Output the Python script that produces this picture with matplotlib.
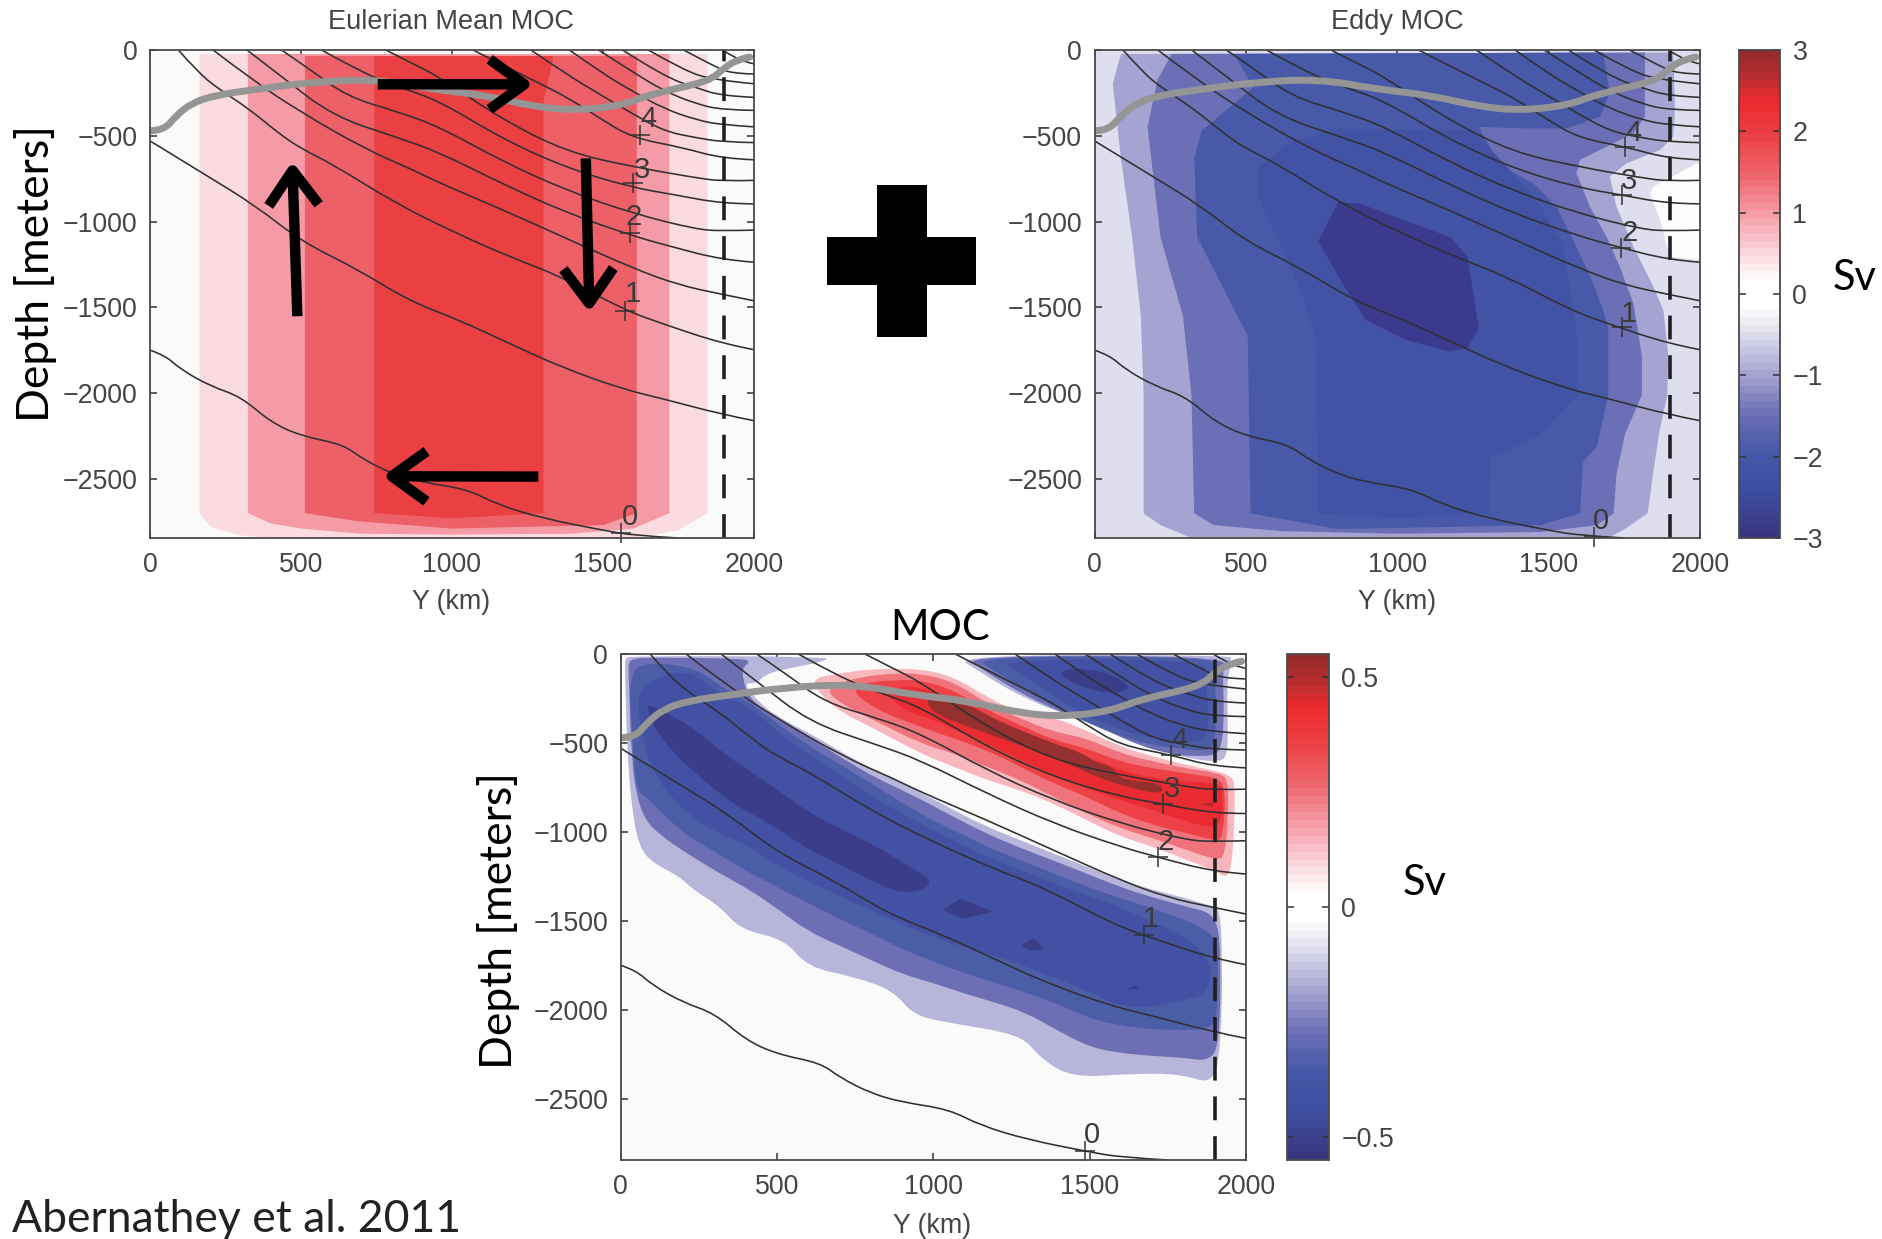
import matplotlib
matplotlib.use("Agg")
import matplotlib.pyplot as plt
from matplotlib.cm import ScalarMappable
from matplotlib.colors import LinearSegmentedColormap, Normalize
from matplotlib.patches import PathPatch, Rectangle
from matplotlib.path import Path

# ---------- isopycnals: (Y km, depth m) ----------
B00_Y = [0, 50, 100, 200, 300, 400, 500, 640, 700, 800, 900, 1050, 1150, 1300, 1500, 1600, 1750]
B00_Z = [-1750, -1780, -1860, -1960, -2020, -2170, -2250, -2300, -2380, -2470, -2520, -2560, -2650, -2730, -2800, -2830, -2845]
B05_Y = [0, 180, 350, 500, 685, 855, 1024, 1193, 1363, 1565, 1700, 1897, 2000]
B05_Z = [-530, -724, -908, -1115, -1276, -1460, -1575, -1713, -1850, -1977, -2034, -2126, -2161]
B10_Y = [94, 158, 222, 328, 424, 500, 605, 819, 1021, 1193, 1363, 1573, 1700, 1897, 2000]
B10_Z = [0, -128, -221, -343, -483, -575, -666, -900, -1074, -1207, -1322, -1517, -1598, -1713, -1747]
B15_Y = [209, 338, 499, 712, 872, 957, 1170, 1383, 1597, 1750, 1895, 2000]
B15_Z = [0, -174, -362, -577, -700, -774, -933, -1102, -1271, -1370, -1425, -1462]
B20_Y = [321, 432, 605, 819, 957, 1170, 1383, 1597, 1719, 1895, 2000]
B20_Z = [0, -150, -385, -510, -596, -783, -952, -1083, -1143, -1224, -1237]
B25_Y = [435, 520, 650, 819, 957, 1170, 1383, 1597, 1810, 1895, 2000]
B25_Z = [0, -100, -270, -360, -446, -652, -821, -952, -1046, -1055, -1050]
B30_Y = [568, 700, 830, 957, 1170, 1383, 1597, 1735, 1895, 2000]
B30_Z = [0, -130, -220, -296, -521, -690, -802, -843, -896, -897]
B35_Y = [781, 870, 957, 1170, 1383, 1597, 1810, 1895, 2000]
B35_Z = [0, -80, -156, -409, -596, -680, -746, -765, -760]
B40_Y = [1070, 1096, 1277, 1383, 1490, 1597, 1762, 1895, 2000]
B40_Z = [0, -24, -184, -277, -399, -512, -568, -633, -640]
B45_Y = [1261, 1383, 1490, 1597, 1703, 1810, 1895, 2000]
B45_Z = [0, -146, -259, -371, -474, -512, -536, -540]
B50_Y = [1389, 1490, 1597, 1703, 1810, 1895, 2000]
B50_Z = [0, -127, -240, -343, -408, -437, -448]
B55_Y = [1485, 1597, 1703, 1810, 1895, 2000]
B55_Z = [0, -127, -240, -315, -349, -352]
B60_Y = [1565, 1703, 1810, 1895, 2000]
B60_Z = [0, -156, -221, -268, -276]
B65_Y = [1650, 1767, 1863, 2000]
B65_Z = [0, -118, -174, -197]
B70_Y = [1767, 1863, 1922, 2000]
B70_Z = [0, -90, -137, -140]
B75_Y = [1895, 1959, 2000]
B75_Z = [0, -71, -80]
ISO_Y = [B00_Y, B05_Y, B10_Y, B15_Y, B20_Y, B25_Y, B30_Y, B35_Y, B40_Y, B45_Y, B50_Y, B55_Y, B60_Y, B65_Y, B70_Y, B75_Y]
ISO_Z = [B00_Z, B05_Z, B10_Z, B15_Z, B20_Z, B25_Z, B30_Z, B35_Z, B40_Z, B45_Z, B50_Z, B55_Z, B60_Z, B65_Z, B70_Z, B75_Z]

# mixed-layer depth
ML_Y = [0, 45, 88, 138, 214, 350, 518, 737, 940, 1109, 1278, 1413, 1565, 1666, 1851, 1902, 1944, 1986]
ML_Z = [-471, -470, -380, -310, -264, -230, -190, -168, -230, -264, -333, -352, -322, -253, -184, -103, -57, -41]

# isopycnal labels: marker Y, marker depth, text Y, text depth
LABELS = ["0", "1", "2", "3", "4"]
EUL_MK_Y = [1561, 1573, 1590, 1598, 1623]
EUL_MK_Z = [-2816, -1522, -1069, -775, -494]
EUL_TX_Y = [1590, 1598, 1603, 1629, 1649]
EUL_TX_Z = [-2724, -1425, -972, -697, -402]
EDD_MK_Y = [1650, 1743, 1740, 1743, 1753]
EDD_MK_Z = [-2839, -1616, -1156, -846, -568]
EDD_TX_Y = [1674, 1766, 1766, 1767, 1780]
EDD_TX_Z = [-2747, -1540, -1069, -766, -483]
MOC_MK_Y = [1484, 1674, 1719, 1735, 1759]
MOC_MK_Z = [-2797, -1579, -1140, -841, -570]
MOC_TX_Y = [1508, 1694, 1743, 1763, 1786]
MOC_TX_Z = [-2704, -1491, -1056, -759, -486]

# ---------- Eulerian panel: filled contour outlines ----------
E1_Y = [164, 1846, 1846, 1750, 1600, 400, 300, 200, 164]
E1_Z = [-23, -23, -2700, -2800, -2845, -2845, -2830, -2780, -2700]
E2_Y = [324, 1720, 1720, 1600, 1400, 1000, 700, 500, 400, 324]
E2_Z = [-23, -23, -2700, -2790, -2820, -2825, -2820, -2790, -2760, -2700]
E3_Y = [513, 1612, 1612, 1500, 1000, 687, 513]
E3_Z = [-35, -35, -2700, -2770, -2790, -2747, -2700]
E4_Y = [743, 1337, 1303, 1303, 1000, 743]
E4_Z = [-35, -35, -300, -2700, -2730, -2700]

# ---------- Eddy panel ----------
D2_Y = [87, 1912, 1917, 1912, 1868, 1757, 1702, 1724, 1780, 1846, 1879, 1895, 1892, 1864, 1845, 1827, 1752, 1697, 320, 218, 162, 162, 153, 124, 87, 60]
D2_Z = [-23, -15, -350, -505, -583, -661, -738, -913, -1147, -1380, -1516, -1780, -2011, -2241, -2471, -2701, -2793, -2845, -2845, -2770, -2701, -2012, -1552, -1092, -632, -196]
D3_Y = [255, 1818, 1818, 1780, 1669, 1603, 1592, 1636, 1691, 1735, 1780, 1808, 1808, 1752, 1724, 1715, 1660, 1473, 1000, 618, 394, 329, 320, 292, 218, 175, 208]
D3_Z = [-23, -15, -389, -486, -583, -641, -719, -913, -1088, -1263, -1477, -1782, -2011, -2241, -2471, -2701, -2770, -2810, -2820, -2805, -2770, -2701, -2011, -1552, -1092, -448, -172]
D4_Y = [460, 1680, 1702, 1669, 1559, 1427, 1269, 1339, 1449, 1526, 1581, 1647, 1680, 1697, 1697, 1660, 1613, 1604, 1473, 804, 515, 506, 339, 329, 353, 525]
D4_Z = [-23, -15, -253, -389, -457, -457, -448, -670, -777, -913, -1108, -1360, -1516, -1621, -2011, -2310, -2402, -2701, -2770, -2793, -2701, -1667, -1092, -632, -471, -218]
D5_Y = [543, 643, 810, 1250, 1325, 1455, 1548, 1594, 1594, 1473, 1306, 1302, 1000, 739, 729, 673, 543]
D5_Z = [-678, -540, -460, -471, -609, -862, -1138, -1667, -2011, -2241, -2379, -2701, -2730, -2701, -1667, -1368, -862]
D6_Y = [804, 878, 1176, 1232, 1269, 1232, 1176, 1027, 897, 822, 739]
D6_Z = [-885, -897, -1092, -1207, -1621, -1736, -1759, -1690, -1575, -1368, -1115]
DW_Y = [2000, 1989, 1846, 1835, 1868, 1900, 2000]
DW_Z = [-661, -661, -797, -836, -991, -1205, -1224]

# ---------- total MOC: lower blue lobe ----------
L1_Y = [14, 25, 670, 648, 563, 467, 435, 392, 435, 499, 605, 712, 819, 925, 1064, 1170, 1277, 1383, 1490, 1597, 1703, 1810, 1895, 1916, 1925, 1920, 1896, 1790, 1627, 1443, 1341, 1280, 1036, 934, 873, 750, 597, 526, 383, 318, 232, 190, 104, 57, 32, 20, 14]
L1_Z = [-30, -10, -15, -43, -71, -109, -165, -165, -259, -352, -446, -558, -661, -746, -877, -971, -1046, -1121, -1196, -1271, -1327, -1374, -1420, -1430, -1700, -2200, -2422, -2360, -2360, -2382, -2271, -2138, -2071, -2027, -1894, -1816, -1761, -1605, -1550, -1420, -1327, -1252, -1177, -1083, -820, -500, -100]
L2_Y = [25, 40, 94, 392, 414, 387, 395, 414, 467, 542, 605, 712, 819, 925, 1064, 1170, 1277, 1383, 1490, 1597, 1703, 1810, 1906, 1920, 1915, 1880, 1800, 1700, 1600, 1500, 1400, 1300, 1200, 1100, 1000, 900, 800, 700, 600, 499, 414, 307, 211, 126, 78, 51, 35, 25]
L2_Z = [-50, -25, -20, -25, -45, -80, -170, -250, -330, -400, -470, -590, -700, -785, -915, -1010, -1090, -1160, -1235, -1310, -1370, -1420, -1465, -1700, -2200, -2290, -2270, -2260, -2245, -2210, -2120, -2020, -1960, -1910, -1850, -1800, -1720, -1640, -1560, -1430, -1327, -1224, -1121, -1018, -933, -800, -600, -100]
L3_Y = [25, 94, 243, 318, 403, 478, 605, 712, 819, 957, 1064, 1170, 1277, 1383, 1490, 1597, 1703, 1895, 1912, 1908, 1880, 1800, 1700, 1600, 1500, 1400, 1300, 1200, 1100, 1000, 900, 800, 700, 600, 500, 400, 300, 200, 78, 50, 38]
L3_Z = [-100, -43, -80, -184, -259, -362, -521, -633, -746, -900, -990, -1083, -1158, -1233, -1308, -1373, -1430, -1555, -1700, -2050, -2110, -2115, -2110, -2090, -2050, -1970, -1905, -1850, -1795, -1730, -1660, -1570, -1490, -1400, -1310, -1220, -1110, -1010, -802, -760, -500]
L4_Y = [56, 104, 211, 275, 328, 414, 520, 627, 733, 840, 957, 1064, 1170, 1277, 1383, 1490, 1597, 1880, 1890, 1800, 1700, 1600, 1500, 1400, 1300, 1200, 1100, 1000, 900, 800, 700, 600, 500, 414, 300, 211, 100, 56]
L4_Z = [-212, -137, -90, -165, -240, -296, -465, -596, -718, -840, -952, -1046, -1139, -1214, -1289, -1355, -1420, -1650, -1900, -1950, -1985, -1985, -1900, -1830, -1760, -1700, -1650, -1590, -1520, -1440, -1360, -1280, -1190, -1083, -1000, -896, -680, -350]
L5_Y = [83, 104, 222, 328, 424, 510, 605, 712, 819, 925, 995, 973, 893, 797, 691, 584, 478, 371, 264, 168, 104]
L5_Z = [-287, -296, -399, -558, -671, -774, -896, -989, -1083, -1196, -1270, -1327, -1345, -1270, -1177, -1083, -952, -858, -708, -558, -408]
S1_Y = [1030, 1087, 1189, 1097]
S1_Z = [-1440, -1373, -1450, -1488]
S2_Y = [1280, 1321, 1358, 1311]
S2_Z = [-1639, -1597, -1661, -1668]
S3_Y = [1617, 1650, 1657]
S3_Z = [-1883, -1861, -1883]

# upper blue lobe
U1_Y = [1064, 1149, 1224, 1309, 1383, 1469, 1554, 1650, 1757, 1842, 1916, 1938, 1943, 1938, 1954, 1948]
U1_Z = [-6, -99, -184, -259, -315, -362, -427, -502, -559, -596, -605, -577, -446, -165, -34, -6]
U2_Y = [1095, 1160, 1240, 1325, 1400, 1480, 1565, 1660, 1760, 1840, 1905, 1925, 1930, 1925, 1935]
U2_Z = [-10, -90, -180, -260, -320, -375, -440, -515, -565, -575, -570, -500, -300, -100, -10]
U3_Y = [1130, 1190, 1270, 1345, 1420, 1500, 1590, 1690, 1780, 1860, 1900, 1905, 1900, 1915]
U3_Z = [-15, -90, -175, -255, -325, -390, -455, -510, -530, -545, -530, -300, -100, -15]
U4_Y = [1200, 1290, 1370, 1450, 1530, 1620, 1720, 1820, 1880, 1880, 1870, 1880]
U4_Z = [-30, -120, -220, -310, -380, -440, -480, -500, -470, -300, -150, -30]
U5_Y = [1399, 1437, 1522, 1607, 1629, 1597, 1522, 1447]
U5_Z = [-109, -81, -90, -146, -193, -221, -212, -165]

# red lobe
R1_Y = [605, 700, 791, 954, 1064, 1170, 1277, 1383, 1490, 1597, 1703, 1810, 1916, 1954, 1964, 1964, 1954, 1938, 1895, 1810, 1703, 1597, 1490, 1383, 1277, 1170, 1064, 957, 819, 712, 650]
R1_Z = [-140, -110, -85, -81, -127, -240, -334, -355, -430, -521, -577, -624, -662, -690, -727, -915, -1196, -1261, -1214, -1158, -1083, -1027, -933, -840, -765, -708, -633, -558, -427, -334, -250]
R2_Y = [691, 776, 872, 957, 1064, 1170, 1277, 1383, 1490, 1597, 1703, 1810, 1916, 1943, 1943, 1932, 1905, 1810, 1703, 1597, 1490, 1383, 1277, 1170, 1064, 957, 819, 712, 659]
R2_Z = [-165, -127, -109, -109, -155, -277, -362, -437, -474, -558, -605, -643, -671, -708, -915, -1140, -1158, -1102, -1036, -980, -896, -802, -708, -633, -558, -502, -380, -287, -212]
R3_Y = [733, 797, 904, 957, 1064, 1170, 1277, 1383, 1490, 1597, 1703, 1810, 1916, 1932, 1932, 1921, 1895, 1810, 1703, 1597, 1490, 1383, 1277, 1170, 1064, 957, 819]
R3_Z = [-202, -155, -146, -146, -202, -315, -399, -484, -530, -605, -643, -671, -699, -765, -915, -1046, -1046, -1008, -961, -896, -802, -727, -633, -540, -474, -409, -315]
R4_Y = [840, 893, 957, 1064, 1170, 1277, 1383, 1490, 1597, 1703, 1810, 1916, 1927, 1921, 1895, 1810, 1703, 1597, 1490, 1383, 1277, 1170, 1064, 957, 925]
R4_Z = [-221, -184, -184, -259, -352, -437, -502, -577, -652, -699, -718, -727, -783, -952, -980, -943, -877, -821, -755, -680, -596, -502, -418, -343, -333]
R5_Y = [978, 1021, 1117, 1191, 1277, 1383, 1479, 1511, 1575, 1597, 1735, 1730, 1618, 1533, 1405, 1277, 1170, 1064, 989]
R5_Z = [-249, -240, -287, -362, -427, -502, -558, -605, -633, -708, -727, -793, -746, -699, -596, -512, -446, -380, -315]
R6_Y = [1842, 1895, 1895]
R6_Z = [-843, -835, -860]

# colour bar
CB_POS = [-3, -2.5, -2, -1.5, -1, -0.5, -0.15, 0.15, 0.5, 1, 1.5, 2, 2.4, 2.7, 3]
CB_COL = ["#38367F", "#3D4C9F", "#4557A8", "#6B6FB5", "#A5A4D1", "#DEDEEC", "#FFFFFF", "#FFFFFF",
          "#FADADF", "#F59CA6", "#EE646C", "#EB3F41", "#ED2A2E", "#B92D2F", "#962B2B"]
CB1_TICKS = [-3, -2, -1, 0, 1, 2, 3]
CB2_TICKS = [-0.5, 0, 0.5]
CB2_LABELS = ["\u22120.5", "0", "0.5"]
X_TICKS = [0, 500, 1000, 1500, 2000]
Y_TICKS = [0, -500, -1000, -1500, -2000, -2500]

W, H = 1883, 1239
DPI = 100
TXT = "#454545"
FS = 19.3
plt.rcParams["font.family"] = ["Liberation Sans", "DejaVu Sans"]
fig = plt.figure(figsize=(W / DPI, H / DPI), dpi=DPI, facecolor="white")


def add_axes(x0, y0, x1, y1):
    return fig.add_axes([x0 / W, 1 - y1 / H, (x1 - x0) / W, (y1 - y0) / H])


def ftext(x, y, s, **kw):
    fig.text(x / W, 1 - y / H, s, ha=kw.pop("ha", "center"), va="center", **kw)


def curve_path(y, z, closed):
    """Quadratic Bezier path that uses the read points as control points."""
    p = list(zip(y, z))
    mid = lambda a, b: ((a[0] + b[0]) / 2, (a[1] + b[1]) / 2)
    if closed:
        n = len(p)
        verts = [mid(p[-1], p[0])]
        codes = [Path.MOVETO]
        for i in range(n):
            verts += [p[i], mid(p[i], p[(i + 1) % n])]
            codes += [Path.CURVE3, Path.CURVE3]
        return Path(verts, codes)
    if len(p) == 2:
        return Path(p)
    verts = [p[0]]
    codes = [Path.MOVETO]
    for i in range(1, len(p) - 1):
        end = p[-1] if i == len(p) - 2 else mid(p[i], p[i + 1])
        verts += [p[i], end]
        codes += [Path.CURVE3, Path.CURVE3]
    return Path(verts, codes)


def style(ax, bg):
    ax.set_facecolor(bg)
    ax.set_xlim(0, 2000)
    ax.set_ylim(-2845, 0)
    ax.set_xticks(X_TICKS)
    ax.set_yticks(Y_TICKS)
    ax.yaxis.set_major_formatter(plt.FuncFormatter(lambda v, p: f"{v:.0f}".replace("-", "\u2212")))
    ax.tick_params(direction="in", length=5, width=1.1, top=True, right=True, color="#333333",
                   labelsize=FS, labelcolor=TXT, pad=9)
    ax.tick_params(axis="x", pad=10)
    for s in ax.spines.values():
        s.set_color("#4a4a4a")
        s.set_linewidth(1.3)
        s.set_zorder(6)


def overlay(ax, mk_y, mk_z, tx_y, tx_z, ydash=1900):
    for y, z in zip(ISO_Y, ISO_Z):
        ax.add_patch(PathPatch(curve_path(y, z, False), fill=False, ec="#303030", lw=1.15, zorder=3))
    ax.add_patch(PathPatch(curve_path(ML_Y, ML_Z, False), fill=False, ec="#959595", lw=5, zorder=4, capstyle="round"))
    ax.axvline(ydash, color="#202020", lw=2.6, dashes=(6.6, 4.4), zorder=5, dash_capstyle="butt")
    ax.plot(mk_y, mk_z, ls="none", marker="+", ms=15, mew=1.1, color="#333333", zorder=5, clip_on=False)
    for s, y, z in zip(LABELS, tx_y, tx_z):
        ax.text(y, z, s, fontsize=21, color="#3a3a3a", ha="center", va="center", zorder=5)


def band(ax, y, z, c):
    ax.fill(y, z, color=c, lw=0, zorder=2)


def sband(ax, y, z, c):
    ax.add_patch(PathPatch(curve_path(y, z, True), fc=c, ec="none", lw=0, zorder=2))


# --- Eulerian
ax1 = add_axes(150, 50, 754, 538)
style(ax1, "#FAFAFA")
for y, z, c in [(E1_Y, E1_Z, "#FADBDF"), (E2_Y, E2_Z, "#F59BA5"), (E3_Y, E3_Z, "#EE6068"), (E4_Y, E4_Z, "#EA4042")]:
    band(ax1, y, z, c)
overlay(ax1, EUL_MK_Y, EUL_MK_Z, EUL_TX_Y, EUL_TX_Z)
ARROW_A = [(754, -200), (488, -1552), (1443, -632), (1286, -2487)]
ARROW_B = [(1269, -200), (471, -650), (1455, -1529), (771, -2485)]
for a, b in zip(ARROW_A, ARROW_B):
    ax1.annotate("", xy=b, xytext=a, zorder=7,
                 arrowprops=dict(arrowstyle="->,head_length=25,head_width=18", mutation_scale=1, lw=7.5,
                                 color="black", shrinkA=0, shrinkB=0, capstyle="butt", joinstyle="round"))

# --- Eddy
ax2 = add_axes(1094.6, 50, 1700, 538)
style(ax2, "#DEDEEE")
for y, z, c in [(D2_Y, D2_Z, "#A4A3D1"), (D3_Y, D3_Z, "#6B6FB5"), (D4_Y, D4_Z, "#4859A9"), (D5_Y, D5_Z, "#4253A5"),
                (D6_Y, D6_Z, "#3A3A8E"), (DW_Y, DW_Z, "#FDFDFD")]:
    band(ax2, y, z, c)
overlay(ax2, EDD_MK_Y, EDD_MK_Z, EDD_TX_Y, EDD_TX_Z)

# --- total
ax3 = add_axes(620.7, 654, 1246, 1160)
style(ax3, "#FAFAFA")
for y, z, c in [(L1_Y, L1_Z, "#B7B6DA"), (L2_Y, L2_Z, "#6D6FB5"), (L3_Y, L3_Z, "#4C5DA8"), (L4_Y, L4_Z, "#4351A4"),
                (L5_Y, L5_Z, "#3A3E8A"), (U1_Y, U1_Z, "#B7B6DA"), (U2_Y, U2_Z, "#6D6FB5"), (U3_Y, U3_Z, "#4C5DA8"),
                (U4_Y, U4_Z, "#4351A4"), (U5_Y, U5_Z, "#3A3E8A"), (R1_Y, R1_Z, "#F8B7BD"), (R2_Y, R2_Z, "#F0737C"),
                (R3_Y, R3_Z, "#EE4146"), (R4_Y, R4_Z, "#EA2C32"), (R5_Y, R5_Z, "#96302F")]:
    sband(ax3, y, z, c)
for y, z, c in [(S1_Y, S1_Z, "#3A3E8A"), (S2_Y, S2_Z, "#3A3E8A"), (S3_Y, S3_Z, "#3A3E8A"), (R6_Y, R6_Z, "#B52B2E")]:
    band(ax3, y, z, c)
overlay(ax3, MOC_MK_Y, MOC_MK_Z, MOC_TX_Y, MOC_TX_Z)

# --- colour bars
cmap = LinearSegmentedColormap.from_list("moc", [((p + 3) / 6, c) for p, c in zip(CB_POS, CB_COL)], N=64)
cax1 = add_axes(1739, 50, 1780, 538)
cb1 = fig.colorbar(ScalarMappable(Normalize(-3, 3), cmap), cax=cax1, ticks=CB1_TICKS)
cb1.ax.set_yticklabels([f"{t}".replace("-", "\u2212") for t in CB1_TICKS])
cax2 = add_axes(1287, 654, 1329, 1160)
cb2 = fig.colorbar(ScalarMappable(Normalize(-0.55, 0.55), cmap), cax=cax2, ticks=CB2_TICKS)
cb2.ax.set_yticklabels(CB2_LABELS)
for cb in (cb1, cb2):
    cb.ax.tick_params(direction="in", length=5, width=1.1, left=True, right=True, color="#333333",
                      labelsize=FS, labelcolor=TXT, pad=9)
    cb.outline.set_edgecolor("#4a4a4a")
    cb.outline.set_linewidth(1.3)

# --- text
ftext(451, 22, "Eulerian Mean MOC", fontsize=19.5, color=TXT)
ftext(1397, 22, "Eddy MOC", fontsize=19.5, color=TXT)
ftext(451, 602, "Y (km)", fontsize=FS, color=TXT)
ftext(1397, 602, "Y (km)", fontsize=FS, color=TXT)
ftext(932, 1226, "Y (km)", fontsize=FS, color=TXT)
CAL = ["Lato", "DejaVu Sans"]
ftext(940, 628, "MOC", fontsize=30, color="black", family=CAL)
ftext(36, 274, "Depth [meters]", fontsize=32, color="black", family=CAL, rotation=90)
ftext(498, 921, "Depth [meters]", fontsize=32, color="black", family=CAL, rotation=90)
ftext(1855, 278, "Sv", fontsize=30, color="black", family=CAL)
ftext(1425, 883, "Sv", fontsize=30, color="black", family=CAL)
ftext(12, 1220, "Abernathey et al. 2011", fontsize=32, color="#222222", family=CAL, ha="left")

# big plus sign
fig.add_artist(Rectangle((827 / W, 1 - 285 / H), 149 / W, 48 / H, transform=fig.transFigure, color="black", lw=0))
fig.add_artist(Rectangle((877 / W, 1 - 337 / H), 50 / W, 152 / H, transform=fig.transFigure, color="black", lw=0))

fig.savefig("out.png", dpi=DPI)
